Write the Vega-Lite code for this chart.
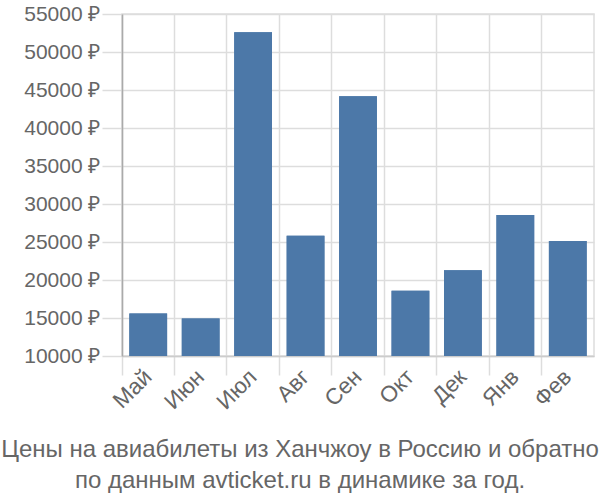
{
  "$schema": "https://vega.github.io/schema/vega-lite/v6.json",
  "width": 472,
  "height": 342,
  "autosize": {"type": "none"},
  "padding": {"left": 122, "top": 14, "right": 6, "bottom": 144},
  "background": "white",
  "config": {
    "font": "Liberation Sans",
    "view": {"stroke": "#dddddd", "strokeWidth": 1.5},
    "axis": {
      "gridColor": "#dddddd",
      "gridWidth": 1.5,
      "tickColor": "#dddddd",
      "tickWidth": 1.5,
      "labelColor": "#666666",
      "labelFont": "Liberation Sans",
      "titleColor": "#666666"
    }
  },
  "title": {
    "text": ["Цены на авиабилеты из Ханчжоу в Россию и обратно", "по данным avticket.ru в динамике за год."],
    "orient": "bottom",
    "anchor": "middle",
    "frame": "group",
    "dx": -58,
    "offset": 25,
    "font": "Liberation Sans",
    "fontSize": 24,
    "fontWeight": "normal",
    "color": "#666666",
    "lineHeight": 31
  },
  "data": {
    "values": [
      {"month": "Май", "price": 15600},
      {"month": "Июн", "price": 14950},
      {"month": "Июл", "price": 52600},
      {"month": "Авг", "price": 25830},
      {"month": "Сен", "price": 44170},
      {"month": "Окт", "price": 18600},
      {"month": "Дек", "price": 21270},
      {"month": "Янв", "price": 28550},
      {"month": "Фев", "price": 25130}
    ]
  },
  "encoding": {
    "y": {
      "field": "price",
      "type": "quantitative",
      "scale": {"domain": [10000, 55000], "zero": false, "nice": false},
      "axis": {
        "title": null,
        "values": [10000, 15000, 20000, 25000, 30000, 35000, 40000, 45000, 50000, 55000],
        "labelExpr": "datum.value + ' ₽'",
        "grid": true,
        "domain": true,
        "domainColor": "#aaaaaa",
        "domainWidth": 1.5,
        "tickSize": 20,
        "labelPadding": 2,
        "labelFontSize": 21
      }
    },
    "y2": {"datum": 10000}
  },
  "layer": [
    {
      "mark": {"type": "bar", "color": "#4c78a8", "width": {"band": 0.72}},
      "encoding": {
        "x": {
          "field": "month",
          "type": "nominal",
          "sort": null,
          "scale": {"paddingInner": 0, "paddingOuter": 0},
          "axis": {
            "title": null,
            "orient": "bottom",
            "bandPosition": 0,
            "grid": true,
            "domain": true,
            "domainColor": "#cccccc",
            "domainWidth": 1.5,
            "ticks": true,
            "tickSize": 19,
            "labels": false
          }
        }
      }
    },
    {
      "mark": {"type": "bar", "color": "#4c78a8", "width": {"band": 0.72}},
      "encoding": {
        "x": {
          "field": "month",
          "type": "nominal",
          "sort": null,
          "axis": {
            "title": null,
            "orient": "bottom",
            "grid": false,
            "domain": false,
            "ticks": false,
            "labelAngle": -45,
            "labelAlign": "right",
            "labelBaseline": "middle",
            "labelPadding": 17,
            "labelFontSize": 22.5
          }
        }
      }
    }
  ],
  "resolve": {"axis": {"x": "independent"}}
}
